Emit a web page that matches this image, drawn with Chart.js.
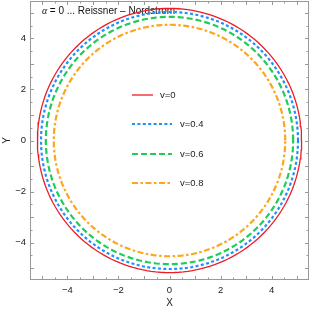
<!DOCTYPE html>
<html>
<head>
<meta charset="utf-8">
<script src="https://cdn.jsdelivr.net/npm/chart.js@4/dist/chart.umd.min.js"></script>
<style>
  html, body { margin: 0; padding: 0; background: #fff; }
  #wrap { width: 312px; height: 309px; }
</style>
</head>
<body>
<div id="wrap"><canvas id="shadowChart"></canvas></div>
<script>
// shadow radii
const labels = ['v=0', 'v=0.4', 'v=0.6', 'v=0.8'];
const radii = [5.17, 5.03, 4.84, 4.53];
const colors = ['#ee1c25', '#1e90ff', '#1fcc55', '#ffa51a'];
const dashes = [[], [3, 2.4], [6, 3], [6, 2.5, 2.5, 2.5]];
const widths = [1.3, 2.2, 2.2, 2.2];

const axisMin = -5.46;
const axisMax = 5.46;
const tickValues = [-5, -4.5, -4, -3.5, -3, -2.5, -2, -1.5, -1, -0.5, 0, 0.5, 1, 1.5, 2, 2.5, 3, 3.5, 4, 4.5, 5];
const labelValues = [-4, -2, 0, 2, 4];

function circlePoints(r) {
    const pts = [];
    for (let a = 0; a <= 360; a += 2) {
        const t = a * Math.PI / 180;
        pts.push({ x: r * Math.cos(t), y: r * Math.sin(t) });
    }
    return pts;
}

function fmt(v) {
    return v < 0 ? '\u2212' + Math.abs(v) : String(v);
}

// frame, inward ticks, axis letters, inset title
const framePlugin = {
    id: 'frame',
    beforeDatasetsDraw(chart) {
        const c = chart.ctx;
        c.save();
        c.fillStyle = '#111';
        c.textBaseline = 'middle';
        c.textAlign = 'left';
        c.font = 'italic 10px "Liberation Serif", serif';
        c.fillText('\u03b1', 42, 11);
        c.font = '10px "Liberation Sans", Arial, sans-serif';
        c.fillText(' = 0 ... Reissner \u2013 Nordstrom', 47, 11);
        c.restore();
    },
    afterDraw(chart) {
        const c = chart.ctx;
        const a = chart.chartArea;
        const xs = chart.scales.x, ys = chart.scales.y;
        c.save();
        c.strokeStyle = '#999';
        c.lineWidth = 1;
        c.strokeRect(a.left + 0.5, a.top + 0.5, a.right - a.left - 1, a.bottom - a.top - 1);
        c.beginPath();
        tickValues.forEach(v => {
            const len = v % 1 === 0 ? 4 : 2.5;
            const px = Math.round(xs.getPixelForValue(v)) + 0.5;
            c.moveTo(px, a.bottom); c.lineTo(px, a.bottom - len);
            c.moveTo(px, a.top); c.lineTo(px, a.top + len);
            const py = Math.round(ys.getPixelForValue(v)) + 0.5;
            c.moveTo(a.left, py); c.lineTo(a.left + len, py);
            c.moveTo(a.right, py); c.lineTo(a.right - len, py);
        });
        c.stroke();

        c.fillStyle = '#222';
        c.font = '10px "Liberation Sans", Arial, sans-serif';
        c.textAlign = 'center';
        c.textBaseline = 'middle';
        c.fillText('X', xs.getPixelForValue(0), 303);
        c.save();
        c.translate(7, ys.getPixelForValue(0));
        c.rotate(-Math.PI / 2);
        c.fillText('Y', 0, 0);
        c.restore();

        // legend in the middle of the plot
        const legendY = [95, 124, 154, 183];
        const lineEnd = [153, 172, 172, 172];
        const textX = [160, 180, 180, 180];
        c.font = '9.5px "Liberation Sans", Arial, sans-serif';
        c.textAlign = 'left';
        labels.forEach((lab, i) => {
            c.beginPath();
            c.strokeStyle = colors[i];
            c.lineWidth = widths[i];
            c.setLineDash(dashes[i]);
            c.moveTo(132, legendY[i]);
            c.lineTo(lineEnd[i], legendY[i]);
            c.stroke();
            c.setLineDash([]);
            c.fillStyle = '#222';
            c.fillText(lab, textX[i], legendY[i] + 0.5);
        });
        c.restore();
    }
};

const ctx = document.getElementById('shadowChart');
const axisCommon = {
    type: 'linear',
    min: axisMin,
    max: axisMax,
    grid: { display: false, drawTicks: false },
    border: { display: false },
    afterBuildTicks(scale) {
        scale.ticks = tickValues.map(v => ({ value: v }));
    },
    ticks: {
        autoSkip: false,
        maxRotation: 0,
        color: '#222',
        font: { family: '"Liberation Sans", Arial, sans-serif', size: 9.5 },
        callback: v => labelValues.includes(v) ? fmt(v) : ''
    }
};

new Chart(ctx, {
    type: 'scatter',
    data: {
        datasets: radii.map((r, i) => ({
            label: labels[i],
            data: circlePoints(r),
            showLine: true,
            borderColor: colors[i],
            borderWidth: widths[i],
            borderDash: dashes[i],
            pointRadius: 0,
            fill: false,
            tension: 0
        })).reverse()
    },
    options: {
        responsive: true,
        maintainAspectRatio: false,
        animation: false,
        events: [],
        layout: { padding: { top: 1, right: 3, left: 0, bottom: 0 } },
        plugins: {
            legend: { display: false },
            tooltip: { enabled: false }
        },
        scales: {
            x: Object.assign({}, axisCommon, {
                position: 'bottom',
                ticks: Object.assign({}, axisCommon.ticks, { padding: 5 }),
                afterFit(scale) {
                    scale.height = 29;
                    scale.paddingLeft = 0;
                    scale.paddingRight = 0;
                }
            }),
            y: Object.assign({}, axisCommon, {
                position: 'left',
                ticks: Object.assign({}, axisCommon.ticks, { padding: 4 }),
                afterFit(scale) {
                    scale.width = 30;
                    scale.paddingTop = 0;
                    scale.paddingBottom = 0;
                }
            })
        }
    },
    plugins: [framePlugin]
});
</script>
</body>
</html>
